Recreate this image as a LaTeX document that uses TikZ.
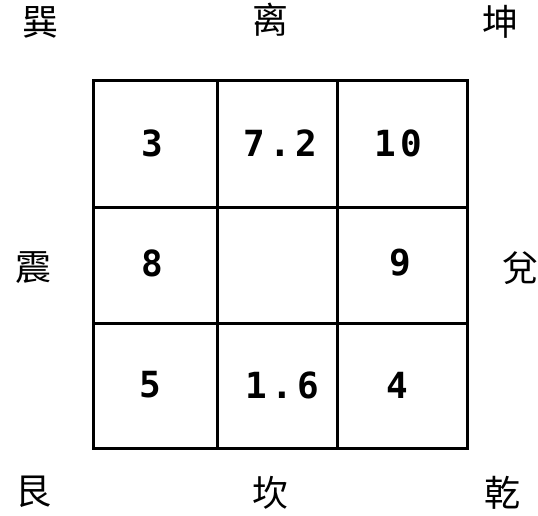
\documentclass[tikz,border=0pt]{standalone}
\usepackage{fontspec}
\newfontfamily\cjkfont{Noto Sans CJK TC}
\newfontfamily\numfont[LetterSpace=12]{DejaVu Sans Mono}
\usetikzlibrary{positioning}
\tikzset{
  gridline/.style={line width=3pt, line cap=rect},
  numcell/.style={font=\numfont\bfseries\fontsize{36}{36}\selectfont, inner sep=0pt},
  gua/.style={font=\cjkfont\fontsize{36}{36}\selectfont, inner sep=0pt},
}

\begin{document}
\begin{tikzpicture}[x=1pt, y=-1pt]
  \useasboundingbox (0,0) rectangle (538,515);

  % the square of nine cells
  \draw[gridline] (93,80) rectangle (467,448);
  \draw[gridline] (217,80) -- (217,448);
  \draw[gridline] (337,80) -- (337,448);
  \draw[gridline] (93,207) -- (467,207);
  \draw[gridline] (93,323) -- (467,323);

  % numbers
  \node[numcell] (nw) at (152,143) {3};
  \node[numcell] (n)  at (280,143) {7.2};
  \node[numcell] (ne) at (398,143) {10};
  \node[numcell] (w)  at (152,263) {8};
  \node[numcell] (e)  at (400,263) {9};
  \node[numcell] (sw) at (150,385) {5};
  \node[numcell] (s)  at (282,385) {1.6};
  \node[numcell] (se) at (397,385) {4};

  % trigram names
  \node[gua] (xun)  at (40,22)  {巽};
  \node[gua] (li)   at (270,20) {离};
  \node[gua] (kun)  at (500,22) {坤};
  \node[gua] (zhen) at (33,268) {震};
  \node[gua] (dui)  at (520,268) {兌};
  \node[gua] (gen)  at (33,492) {艮};
  \node[gua] (kan)  at (270,493) {坎};
  \node[gua] (qian) at (502,493) {乾};
\end{tikzpicture}
\end{document}
